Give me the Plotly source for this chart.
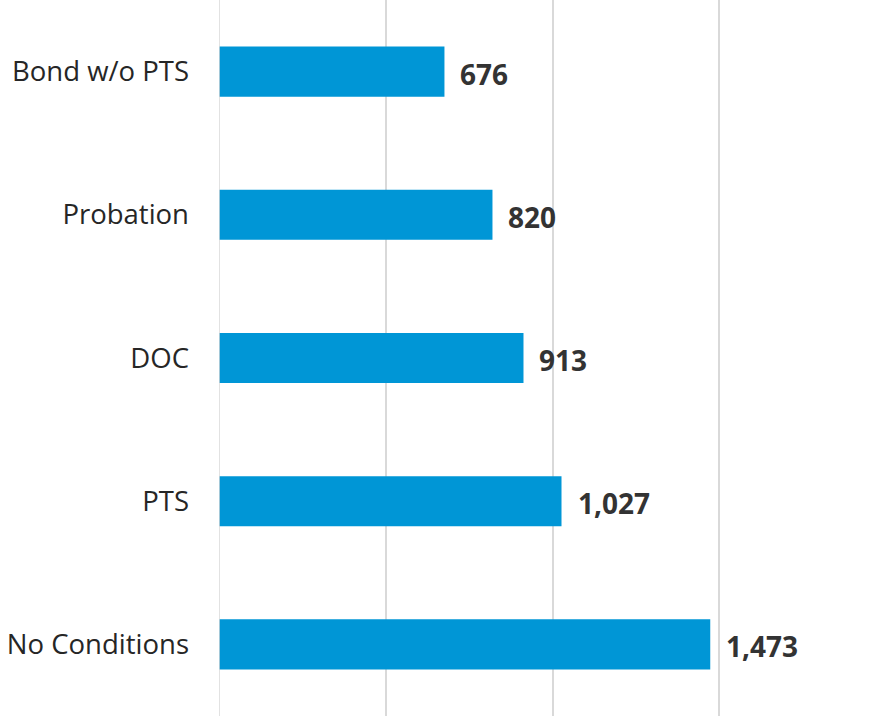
import plotly.graph_objects as go

# Data
categories = ["Bond w/o PTS", "Probation", "DOC", "PTS", "No Conditions"]
values = [676, 820, 913, 1027, 1473]
value_labels = ["676", "820", "913", "1,027", "1,473"]

BAR_COLOR = "#0096D6"
TEXT_COLOR = "#262626"

fig = go.Figure(
    go.Bar(
        y=categories,
        x=values,
        orientation="h",
        marker=dict(color=BAR_COLOR, line=dict(width=0)),
        width=0.35,
        hoverinfo="skip",
    )
)

# value labels to the right of each bar
for cat, val, lab in zip(categories, values, value_labels):
    fig.add_annotation(
        x=val, y=cat, text="<b>" + lab + "</b>",
        xanchor="left", yanchor="middle", xshift=14, yshift=-2,
        showarrow=False,
        font=dict(family="Open Sans", size=28, color="#333333"),
    )

fig.update_layout(
    width=887,
    height=718,
    margin=dict(l=219, r=1, t=0, b=2),
    plot_bgcolor="white",
    paper_bgcolor="white",
    showlegend=False,
    bargap=0.65,
    xaxis=dict(
        range=[0, 2000],
        dtick=500,
        showgrid=True,
        gridcolor="#D9D9D9",
        gridwidth=1.5,
        showticklabels=False,
        zeroline=False,
        showline=False,
    ),
    yaxis=dict(
        autorange="reversed",
        showgrid=False,
        zeroline=False,
        showline=False,
        ticks="",
        ticklabelstandoff=29,
        tickfont=dict(family="Open Sans", size=27.5, color=TEXT_COLOR),
    ),
)

# zero line drawn as a grid line
fig.add_vline(x=0, line=dict(color="#D9D9D9", width=1.5))

# drop the page's default body margin so the figure sits at the corner
fig.write_html(
    "out.html",
    config={"displayModeBar": False},
    post_script="document.body.style.margin='0';",
)
